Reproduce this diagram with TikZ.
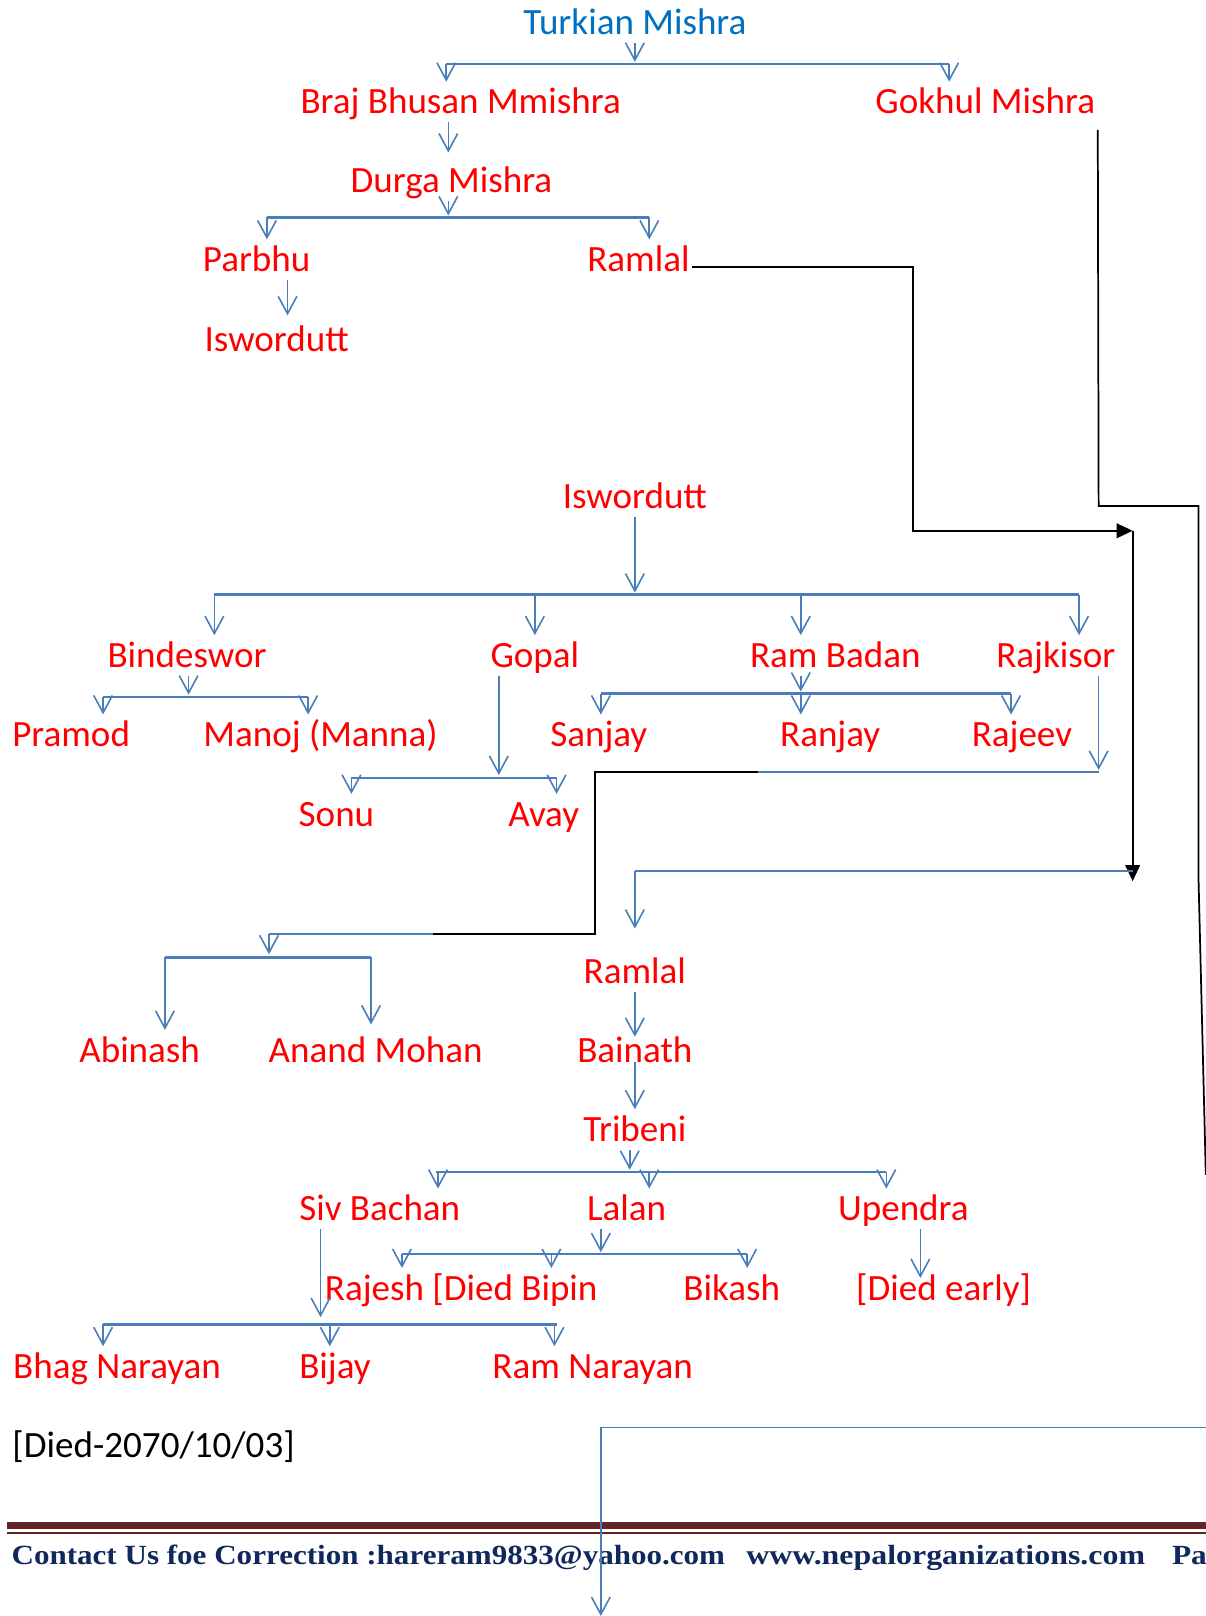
\documentclass[tikz,border=0pt]{standalone}
\usepackage{fontspec}
\setmainfont{Carlito}
\newfontfamily\footfont{Liberation Serif}
\usetikzlibrary{arrows.meta}

\definecolor{namered}{RGB}{255,0,0}
\definecolor{topblue}{RGB}{0,112,192}
\definecolor{lineblue}{RGB}{74,126,187}
\definecolor{footred}{RGB}{99,36,35}
\definecolor{footnavy}{RGB}{16,40,92}

\tikzset{
  person/.style={text=namered, inner sep=0pt, outer sep=2pt,
    text height=22.2pt, text depth=4.3pt, font=\fontsize{27.8}{33}\selectfont},
  kid/.style={draw=lineblue, line width=1.2pt, -{Straight Barb[length=13pt,width=14pt]}},
  wire/.style={draw=lineblue, line width=1.2pt},
  bus/.style={draw=lineblue, line width=1.8pt},
  link/.style={draw=black, line width=1.3pt},
  linkarrow/.style={link, -{Triangle[length=12pt,width=11pt]}},
  foot/.style={text=footnavy, inner sep=0pt, font=\footfont\bfseries\fontsize{20.8}{25}\selectfont},
}

\begin{document}
\begin{tikzpicture}[x=0.773pt, y=-0.773pt]
\useasboundingbox (0,0) rectangle (1170,1568);

% names
\node[person, text=topblue] (turkian) at (616,22) {Turkian Mishra};
\node[person] (braj) at (447,99) {Braj Bhusan Mmishra};
\node[person] (gokhul) at (956,99) {Gokhul Mishra};
\node[person] (durga) at (438,175) {Durga Mishra};
\node[person] (parbhu) at (249,252) {Parbhu};
\node[person] (ramlal) at (619.5,252) {Ramlal};
\node[person] (iswor) at (268.5,329) {Iswordutt};
\node[person] (isword) at (616,482) {Iswordutt};
\node[person] (binde) at (181.5,636) {Bindeswor};
\node[person] (gopal) at (519,636) {Gopal};
\node[person] (rambadan) at (810.5,636) {Ram Badan};
\node[person] (rajkisor) at (1024.5,636) {Rajkisor};
\node[person] (pramod) at (69,713) {Pramod};
\node[person] (manoj) at (311,713) {Manoj (Manna)};
\node[person] (sanjay) at (581,713) {Sanjay};
\node[person] (ranjay) at (805.5,713) {Ranjay};
\node[person] (rajeev) at (991.5,713) {Rajeev};
\node[person] (sonu) at (326.5,790) {Sonu};
\node[person] (avay) at (527.5,790) {Avay};
\node[person] (ramlal2) at (616,943) {Ramlal};
\node[person] (abinash) at (135.5,1019) {Abinash};
\node[person] (anand) at (364.5,1019) {Anand Mohan};
\node[person] (bainath) at (616,1019) {Bainath};
\node[person] (tribeni) at (616,1096) {Tribeni};
\node[person] (sivbachan) at (368.5,1173) {Siv Bachan};
\node[person] (lalan) at (608,1173) {Lalan};
\node[person] (upendra) at (876.5,1173) {Upendra};
\node[person] (rajesh) at (447.5,1250) {Rajesh [Died Bipin};
\node[person] (bikash) at (710,1250) {Bikash};
\node[person] (diedearly) at (915.5,1250) {[Died early]};
\node[person] (bhag) at (113.5,1326) {Bhag Narayan};
\node[person] (bijay) at (325,1326) {Bijay};
\node[person] (ramnarayan) at (575,1326) {Ram Narayan};
\node[person, text=black, anchor=west] (died) at (9.5,1403) {[Died-2070/10/03]};

% first generations
\draw[kid] (turkian) -- (616,60);
\draw[bus] (433,62) -- (921,62);
\draw[kid] (433,62) -- (braj.north -| 433,0);
\draw[kid] (921,62) -- (gokhul.north -| 921,0);
\draw[kid] (braj.south -| 435,0) -- (435,148);
\draw[kid] (durga.south -| 435,0) -- (435,209);
\draw[bus] (259,211) -- (630,211);
\draw[kid] (259,211) -- (parbhu.north -| 259,0);
\draw[kid] (630,211) -- (ramlal.north -| 630,0);
\draw[kid] (parbhu.south -| 279,0) -- (279,306);

% Iswordutt
\draw[kid] (isword) -- (616,575);
\draw[bus] (208,577) -- (1047,577);
\foreach \x/\n in {208/binde,519/gopal,777/rambadan,1047/rajkisor}
  \draw[kid] (\x,577) -- (\n.north -| \x,0);

\draw[kid] (binde.south -| 183,0) -- (183,674);
\draw[bus] (100,676) -- (299,676);
\draw[kid] (100,676) -- (pramod.north -| 100,0);
\draw[kid] (299,676) -- (manoj.north -| 299,0);

\draw[kid] (gopal.south -| 484,0) -- (484,752);
\draw[bus] (341,755) -- (540,755);
\draw[kid] (341,755) -- (sonu.north -| 341,0);
\draw[kid] (540,755) -- (avay.north -| 540,0);

\draw[kid] (rambadan.south -| 777,0) -- (777,671);
\draw[bus] (583,673) -- (981,673);
\foreach \x/\n in {583/sanjay,777/ranjay,981/rajeev}
  \draw[kid] (\x,673) -- (\n.north -| \x,0);

% Rajkisor
\draw[kid] (rajkisor.south -| 1066,0) -- (1066,747);
\draw[wire] (1066,749) -- (735,749);
\draw[link] (735,749) -- (577,749) -- (577,906) -- (420,906);
\draw[bus] (420,906) -- (261,906);
\draw[kid] (261,906) -- (261,926);
\draw[bus] (160,929) -- (360,929);
\draw[kid] (160,929) -- (abinash.north -| 160,0);
\draw[kid] (360,929) -- (360,994);

% Ramlal and Gokhul
\coordinate (join) at (1099,515);
\draw[linkarrow] (ramlal.east |- 0,259) -| (886,515) -- (join);
\draw[linkarrow] (join) -- (1099,855);
\draw[wire] (616,845) -- (1099,845);
\draw[kid] (616,845) -- (616,901);
\draw[link] (gokhul.east |- 0,126) -- (1066,491) -- (1163,491) -- (1163,856) -- (1170,1140);

\draw[kid] (ramlal2) -- (616,1006);
\draw[kid] (616,1030) -- (tribeni);
\draw[kid] (tribeni.south -| 611,0) -- (611,1135);
\draw[bus] (423,1137) -- (860,1137);
\foreach \x/\n in {425/sivbachan,630/lalan,860/upendra}
  \draw[kid] (\x,1137) -- (\n.north -| \x,0);

\draw[kid] (lalan.south -| 583,0) -- (583,1215);
\draw[bus] (390,1217) -- (725,1217);
\foreach \x/\n in {390/rajesh,535/rajesh,725/bikash}
  \draw[kid] (\x,1217) -- (\n.north -| \x,0);
\draw[kid] (upendra.south -| 893,0) -- (893,1240);

\draw[kid] (sivbachan.south -| 311,0) -- (311,1278);
\draw[bus] (100,1285) -- (540,1285);
\foreach \x/\n in {100/bhag,320/bijay,538/ramnarayan}
  \draw[kid] (\x,1285) -- (\n.north -| \x,0);

% footer
\fill[footred] (7,1476.6) rectangle (1170,1483.4);
\fill[footred] (7,1486.5) rectangle (1170,1488.3);
\begin{scope}
  \clip (0,1490) rectangle (1170,1568);
  \node[foot, anchor=base west] (contact) at (11,1518) {\scalebox{1.12}[1]{Contact Us foe Correction :hareram9833@yahoo.com}};
  \node[foot, anchor=base west] (web) at (724,1518) {\scalebox{1.15}[1]{www.nepalorganizations.com}};
  \node[foot, anchor=base west] (page) at (1137,1518) {\scalebox{1.13}[1]{Page}};
\end{scope}
\draw[kid] (1170,1385) -- (583,1385) -- (583,1568);
\end{tikzpicture}
\end{document}
